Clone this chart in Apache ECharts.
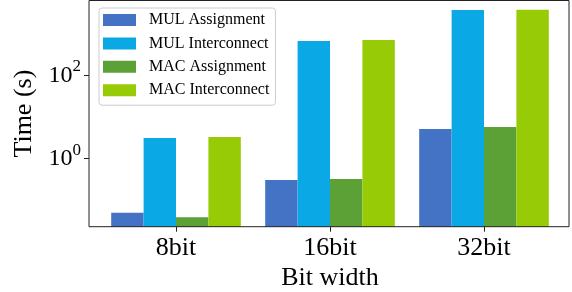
<!DOCTYPE html>
<html>
<head>
<meta charset="utf-8">
<script src="https://cdn.jsdelivr.net/npm/echarts@6/dist/echarts.min.js"></script>
<style>html,body{margin:0;padding:0;background:#fff}#c{width:572px;height:292px}</style>
</head>
<body>
<div id="c"></div>
<script>
var categories = ['8bit', '16bit', '32bit'];
var seriesNames = ['MUL Assignment', 'MUL Interconnect', 'MAC Assignment', 'MAC Interconnect'];
var mulAssignment = [0.050, 0.304, 5.12];
var mulInterconnect = [3.11, 668, 3715];
var macAssignment = [0.039, 0.322, 5.72];
var macInterconnect = [3.29, 706, 3740];
var yTicks = [1, 100];
var colors = ['#4472C4', '#0AA9E6', '#5BA135', '#96CB05'];

var FONT = 'Liberation Serif';
var chart = echarts.init(document.getElementById('c'), null, {renderer: 'canvas'});
var dataSets = [mulAssignment, mulInterconnect, macAssignment, macInterconnect];

var series = seriesNames.map(function (n, i) {
  return {
    name: n, type: 'bar', xAxisIndex: 1, yAxisIndex: 1,
    data: dataSets[i], barWidth: 32.4, barGap: '0%',
    itemStyle: {color: colors[i]}, z: 2
  };
});

chart.setOption({
  animation: false,
  textStyle: {fontFamily: FONT},
  grid: [
    {left: 89, right: 3, top: 0.5, bottom: 65.3, show: true, borderColor: '#222', borderWidth: 1, backgroundColor: 'transparent', z: 3, outerBoundsMode: 'none', containLabel: false},
    {left: 99, right: 11, top: 0.5, bottom: 65.3, outerBoundsMode: 'none', containLabel: false}
  ],
  legend: {
    data: seriesNames,
    orient: 'vertical', left: 99, top: 8,
    itemWidth: 33, itemHeight: 12, itemGap: 7.4,
    padding: [4, 6, 7, 4],
    borderColor: '#ccc', borderWidth: 1, borderRadius: 3,
    backgroundColor: 'rgba(255,255,255,0.8)',
    icon: 'rect',
    textStyle: {fontFamily: FONT, fontSize: 16, lineHeight: 16, color: '#000', padding: [0, 0, 0, 8]},
    z: 10
  },
  xAxis: [
    {type: 'category', gridIndex: 0, show: false, data: categories},
    {
      type: 'category', gridIndex: 1, data: categories,
      axisLine: {show: false},
      axisTick: {show: true, alignWithLabel: true, length: 5, lineStyle: {color: '#222'}},
      axisLabel: {fontFamily: FONT, fontSize: 26, color: '#000', margin: 8},
      name: 'Bit width', nameLocation: 'middle', nameGap: 37,
      nameTextStyle: {fontFamily: FONT, fontSize: 26, color: '#000'}
    }
  ],
  yAxis: [
    {type: 'value', gridIndex: 0, show: false},
    {
      type: 'log', gridIndex: 1, logBase: 10, min: 0.023, max: 6280, startValue: 0.023, offset: 10,
      axisLine: {show: false},
      splitLine: {show: false},
      minorTick: {show: false},
      axisTick: {show: true, length: 5, lineStyle: {color: '#222'}, customValues: yTicks},
      axisLabel: {
        customValues: yTicks,
        margin: 8,
        formatter: function (v) { return '{b|10}{s|' + Math.round(Math.log10(v)) + '}'; },
        rich: {
          b: {fontFamily: FONT, fontSize: 24, lineHeight: 24, color: '#000', verticalAlign: 'bottom'},
          s: {fontFamily: FONT, fontSize: 17, lineHeight: 17, color: '#000', padding: [0, 0, 12, 0], verticalAlign: 'bottom'}
        }
      },
      name: 'Time (s)', nameLocation: 'middle', nameGap: 41,
      nameTextStyle: {fontFamily: FONT, fontSize: 26, color: '#000'}
    }
  ],
  series: series
});
</script>
</body>
</html>
